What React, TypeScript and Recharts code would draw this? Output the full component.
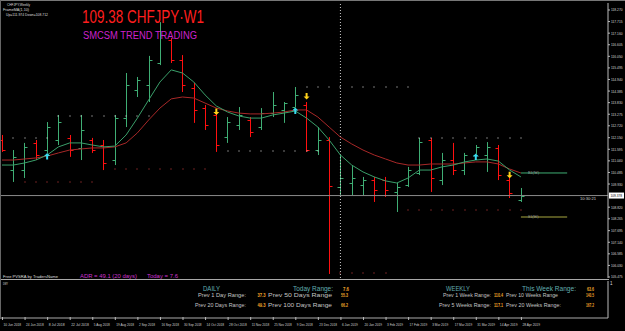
import React from 'react';
import { ComposedChart, Bar, Line, Scatter, XAxis, YAxis, ReferenceLine } from 'recharts';

const FONT = "'Liberation Sans', Arial, sans-serif";

const weeks = [
  '10 Jun 2018', '17 Jun 2018', '24 Jun 2018', '1 Jul 2018', '8 Jul 2018', '15 Jul 2018', '22 Jul 2018', '29 Jul 2018',
  '5 Aug 2018', '12 Aug 2018', '19 Aug 2018', '26 Aug 2018', '2 Sep 2018', '9 Sep 2018', '16 Sep 2018', '23 Sep 2018',
  '30 Sep 2018', '7 Oct 2018', '14 Oct 2018', '21 Oct 2018', '28 Oct 2018', '4 Nov 2018', '11 Nov 2018', '18 Nov 2018',
  '25 Nov 2018', '2 Dec 2018', '9 Dec 2018', '16 Dec 2018', '23 Dec 2018', '30 Dec 2018', '6 Jan 2019', '13 Jan 2019',
  '20 Jan 2019', '27 Jan 2019', '3 Feb 2019', '10 Feb 2019', '17 Feb 2019', '24 Feb 2019', '3 Mar 2019', '10 Mar 2019',
  '17 Mar 2019', '24 Mar 2019', '31 Mar 2019', '7 Apr 2019', '14 Apr 2019', '21 Apr 2019', '28 Apr 2019',
];

const open = [112.04, 110.60, 110.60, 111.90, 111.56, 112.04, 112.14, 111.66, 112.04, 111.80, 111.08, 113.09, 114.44, 114.68, 115.73, 116.83,
  115.87, 114.53, 113.57, 113.24, 112.18, 112.76, 113.00, 112.66, 113.33, 113.48, 113.62, 113.72, 111.56, 112.04, 109.79, 109.98,
  109.88, 110.12, 110.12, 109.55, 109.88, 110.46, 112.04, 110.12, 111.08, 110.60, 111.32, 111.32, 111.66, 110.12, 109.17];
const high = [112.28, 111.56, 111.90, 112.04, 112.90, 113.24, 112.28, 113.24, 112.14, 112.04, 113.24, 115.25, 115.06, 116.07, 117.69, 116.93,
  116.11, 114.77, 113.72, 113.33, 113.14, 113.62, 113.14, 113.57, 114.34, 113.86, 114.58, 113.86, 112.66, 112.18, 111.32, 110.79,
  110.27, 110.27, 110.27, 109.98, 110.75, 112.14, 112.14, 111.42, 111.90, 111.42, 111.80, 111.94, 111.80, 110.22, 109.74];
const low = [111.47, 110.03, 110.22, 111.08, 111.42, 111.80, 111.23, 111.08, 111.42, 110.60, 110.84, 112.66, 114.10, 113.86, 115.63, 115.73,
  114.34, 112.86, 112.52, 111.47, 111.90, 112.52, 112.18, 112.52, 113.14, 112.86, 113.62, 111.47, 111.32, 105.62, 109.40, 109.40,
  109.40, 109.07, 109.31, 108.59, 109.79, 110.36, 109.55, 109.88, 110.36, 110.36, 111.37, 110.51, 110.12, 109.26, 109.07];
const close = [111.56, 111.23, 111.71, 111.32, 112.66, 112.90, 111.56, 112.52, 111.56, 110.94, 113.09, 114.68, 114.92, 115.87, 117.07, 115.87,
  114.68, 113.48, 112.76, 111.80, 112.90, 113.24, 112.42, 113.33, 113.72, 113.81, 114.20, 111.56, 112.04, 109.84, 110.22, 110.22,
  110.12, 109.64, 109.64, 109.79, 110.60, 111.94, 110.22, 111.08, 110.60, 111.32, 111.71, 111.71, 110.36, 109.50, 109.378];

const maFast = [110.84, 110.84, 110.94, 111.08, 111.32, 111.71, 111.90, 111.90, 111.80, 111.71, 111.75, 112.28, 113.09, 113.96, 114.82, 115.40,
  115.25, 114.82, 114.20, 113.67, 113.38, 113.19, 113.09, 113.09, 113.24, 113.33, 113.43, 113.09, 112.66, 112.04, 111.32, 110.84,
  110.51, 110.27, 110.08, 109.98, 110.22, 110.60, 110.60, 110.75, 110.84, 110.99, 111.08, 111.13, 111.03, 110.60, 110.27];
const maSlow = [111.08, 111.08, 111.13, 111.18, 111.27, 111.42, 111.56, 111.61, 111.66, 111.66, 111.71, 111.90, 112.38, 113.00, 113.57, 114.01,
  114.10, 114.05, 113.81, 113.57, 113.43, 113.33, 113.29, 113.29, 113.33, 113.38, 113.48, 113.48, 113.14, 112.66, 112.18, 111.85,
  111.56, 111.32, 111.13, 110.94, 110.84, 110.84, 110.89, 110.89, 110.89, 110.94, 110.99, 110.99, 110.89, 110.65, 110.46];

const priceTicks = [118.270, 117.715, 117.160, 116.605, 116.050, 115.495, 114.940, 114.385, 113.830, 113.275, 112.720, 112.150,
  111.595, 111.040, 110.485, 109.930, 108.820, 108.265, 107.695, 107.140, 106.585, 106.030, 105.475];

const upperLevels = [
  { price: 112.14, from: 1, to: 4 },
  { price: 113.19, from: 5, to: 13 },
  { price: 111.51, from: 20, to: 28 },
  { price: 114.58, from: 27, to: 36 },
  { price: 112.14, from: 37, to: 46 },
];
const lowerLevels = [
  { price: 110.03, from: 2, to: 8 },
  { price: 110.65, from: 10, to: 18 },
  { price: 105.67, from: 30, to: 34 },
  { price: 108.69, from: 36, to: 46 },
];
const buyArrows = [{ bar: 4, price: 111.25 }, { bar: 26, price: 113.43 }, { bar: 42, price: 111.22 }];
const sellArrows = [{ bar: 19, price: 113.40 }, { bar: 27, price: 114.15 }, { bar: 45, price: 110.38 }];

const currentPrice = 109.378;
const resistance = 110.46;
const support = 108.35;
const lastBar = 46;
const levelLineEnd = 50.1;
const separatorBar = 30;

const X_DOMAIN: [number, number] = [-0.09, 53.72];
const Y_DOMAIN: [number, number] = [105.427, 118.605];

const BULL = '#3fae74';
const BEAR = '#ff1010';

const rows = weeks.map((w, i) => ({
  i, date: w, o: open[i], h: high[i], l: low[i], c: close[i],
  range: [low[i], high[i]], maF: maFast[i], maS: maSlow[i],
}));

const toPoints = (levels: { price: number; from: number; to: number }[]) => {
  const pts: { i: number; p: number }[] = [];
  levels.forEach((lv) => { for (let k = lv.from; k <= lv.to; k++) pts.push({ i: k, p: lv.price }); });
  return pts;
};
const upperPts = toPoints(upperLevels);
const lowerPts = toPoints(lowerLevels);
const buyPts = buyArrows.map((a) => ({ i: a.bar, p: a.price }));
const sellPts = sellArrows.map((a) => ({ i: a.bar, p: a.price }));

const dateTicks = weeks.map((_, i) => i).filter((i) => i % 2 === 0);

const OhlcShape = (props: any) => {
  const { x, y, width, height, payload } = props;
  if (!payload || payload.h == null) return null;
  const top = Math.min(y, y + height);
  const hgt = Math.abs(height);
  const cx = Math.round(x + width / 2) + 0.5;
  const span = payload.h - payload.l || 1;
  const yO = Math.round(top + ((payload.h - payload.o) / span) * hgt) + 0.5;
  const yC = Math.round(top + ((payload.h - payload.c) / span) * hgt) + 0.5;
  const col = payload.c >= payload.o ? BULL : BEAR;
  return (
    <g stroke={col} strokeWidth={1} fill="none">
      <line x1={cx} x2={cx} y1={top} y2={top + hgt} />
      <line x1={cx - 3} x2={cx} y1={yO} y2={yO} />
      <line x1={cx} x2={cx + 3} y1={yC} y2={yC} />
    </g>
  );
};

const DotShape = (color: string) => (p: any) => (
  <rect x={Math.round(p.cx) - 0.5} y={Math.round(p.cy) - 0.5} width={1} height={1} fill={color} />
);

const UpArrow = (p: any) => {
  const cx = p.cx, cy = p.cy;
  return (
    <path d={`M${cx},${cy - 3.5} L${cx + 3},${cy - 0.5} L${cx + 1},${cy - 0.5} L${cx + 1},${cy + 3} L${cx - 1},${cy + 3} L${cx - 1},${cy - 0.5} L${cx - 3},${cy - 0.5} Z`} fill="#38dcef" />
  );
};
const DownArrow = (p: any) => {
  const cx = p.cx, cy = p.cy;
  return (
    <path d={`M${cx},${cy + 3.5} L${cx + 3},${cy + 0.5} L${cx + 1},${cy + 0.5} L${cx + 1},${cy - 3} L${cx - 1},${cy - 3} L${cx - 1},${cy + 0.5} L${cx - 3},${cy + 0.5} Z`} fill="#ffd21a" />
  );
};

const PriceTick = (p: any) => (
  <text x={p.x} y={p.y} dy={1.5} fontSize={4.2} fill="#d8d8d8" fontFamily={FONT} textLength={11.5} lengthAdjust="spacingAndGlyphs">
    {Number(p.payload.value).toFixed(3)}
  </text>
);

const PriceBox = (p: any) => {
  const vb = p.viewBox || {};
  const right = (vb.x || 0) + (vb.width || 0);
  const y = vb.y || 0;
  return (
    <g>
      <rect x={right + 1} y={y - 3} width={15} height={6} fill="#ffffff" />
      <text x={right + 2.5} y={y + 1.5} fontSize={4.2} fill="#000" fontFamily={FONT} textLength={11.5} lengthAdjust="spacingAndGlyphs">
        {currentPrice.toFixed(3)}
      </text>
      <text x={right - 28} y={y + 4.5} fontSize={4.2} fill="#d0d0d0" fontFamily={FONT} textLength={16} lengthAdjust="spacingAndGlyphs">
        10:30:21
      </text>
    </g>
  );
};

const DateTick = (p: any) => {
  const label = weeks[p.payload.value] || '';
  return (
    <g>
      <line x1={p.x + 0.5} x2={p.x + 0.5} y1={p.y - 1} y2={p.y + 2} stroke="#bbb" />
      <text x={p.x + 1.5} y={p.y + 7.5} fontSize={3.8} fill="#cfcfcf" fontFamily={FONT} textLength={label.length * 1.6} lengthAdjust="spacingAndGlyphs">
        {label}
      </text>
    </g>
  );
};

const T = (props: { x: number; y: number; len: number; size: number; fill: string; children: string; weight?: string }) => (
  <text x={props.x} y={props.y} fontSize={props.size} fill={props.fill} fontFamily={FONT} fontWeight={props.weight || 'normal'}
    textLength={props.len} lengthAdjust="spacingAndGlyphs">{props.children}</text>
);

const TEAL = '#62aeb0';
const GRAYT = '#c4c4c4';
const ORANGE = '#f2a52a';

export default function App() {
  return (
    <div style={{ position: 'absolute', left: 0, top: 0, width: 625, height: 331, background: '#000', overflow: 'hidden' }}>
      <div style={{ position: 'absolute', left: 0, top: 0 }}>
        <ComposedChart width={625} height={279} data={rows} margin={{ top: 3, right: 0, bottom: 1, left: 1 }}>
          <XAxis dataKey="i" type="number" domain={X_DOMAIN} hide allowDataOverflow />
          <YAxis orientation="right" width={17} domain={Y_DOMAIN} ticks={priceTicks} interval={0} allowDataOverflow
            tick={PriceTick} tickSize={2} tickMargin={1} tickLine={{ stroke: '#bbb' }} axisLine={{ stroke: '#bbb' }} />
          <ReferenceLine x={separatorBar} stroke="#c8c8c8" strokeDasharray="1 2" />
          <ReferenceLine y={currentPrice} stroke="#8a8a8a" label={PriceBox} />
          <ReferenceLine segment={[{ x: lastBar, y: resistance }, { x: levelLineEnd, y: resistance }]} stroke="#3fae74"
            label={{ value: 'R1(W)', position: 'insideBottomLeft', fill: '#aaa', fontSize: 4, dx: 2, dy: 6 }} />
          <ReferenceLine segment={[{ x: lastBar, y: support }, { x: levelLineEnd, y: support }]} stroke="#a8a840"
            label={{ value: 'S1(W)', position: 'insideBottomLeft', fill: '#aaa', fontSize: 4, dx: 2, dy: 6 }} />
          <Line dataKey="maS" type="linear" stroke="#a82828" strokeWidth={1} dot={false} isAnimationActive={false} />
          <Line dataKey="maF" type="linear" stroke="#3a9f6a" strokeWidth={1} dot={false} isAnimationActive={false} />
          <Bar dataKey="range" barSize={5} shape={OhlcShape} isAnimationActive={false} />
          <Scatter data={upperPts} dataKey="p" shape={DotShape('#e6e6e6')} isAnimationActive={false} />
          <Scatter data={lowerPts} dataKey="p" shape={DotShape('#d84040')} isAnimationActive={false} />
          <Scatter data={buyPts} dataKey="p" shape={UpArrow} isAnimationActive={false} />
          <Scatter data={sellPts} dataKey="p" shape={DownArrow} isAnimationActive={false} />
        </ComposedChart>
      </div>

      <div style={{ position: 'absolute', left: 0, top: 280 }}>
        <ComposedChart width={625} height={51} data={rows} margin={{ top: 1, right: 0, bottom: 0, left: 1 }}>
          <XAxis dataKey="i" type="number" domain={X_DOMAIN} allowDataOverflow ticks={dateTicks} interval={0}
            tick={DateTick} tickSize={0} tickMargin={0} height={13} axisLine={{ stroke: '#aaa' }} />
          <YAxis orientation="right" width={17} domain={[0, 1]} ticks={[]} tick={false} axisLine={{ stroke: '#bbb' }} />
          <ReferenceLine x={separatorBar} stroke="#c8c8c8" strokeDasharray="1 2" />
          <Line dataKey="none" stroke="none" dot={false} isAnimationActive={false} />
        </ComposedChart>
      </div>

      <div style={{ position: 'absolute', left: 0, top: 0, width: 625, height: 1, background: '#777' }} />
      <div style={{ position: 'absolute', left: 0, top: 0, width: 1, height: 319, background: '#666' }} />
      <div style={{ position: 'absolute', left: 1, top: 279, width: 608, height: 1, background: '#a8a8a8' }} />

      <svg width={625} height={331} style={{ position: 'absolute', left: 0, top: 0, pointerEvents: 'none' }}>
        <T x={7} y={5.5} len={23} size={4.2} fill="#ddd">CHFJPY,Weekly</T>
        <T x={3} y={10.5} len={26} size={4.2} fill="#ddd">FrameMA(1,10)</T>
        <T x={6} y={15.5} len={42} size={4.2} fill="#ddd">Up=111.974 Down=108.712</T>
        <T x={82} y={22.5} len={122} size={19} fill="#ff1e1e">109.38 CHFJPY·W1</T>
        <T x={83} y={38.5} len={114} size={10} fill="#cc22cc">SMCSM TREND TRADING</T>

        <T x={3} y={277.5} len={55} size={4.2} fill="#ddd">Free PVSRA by TradersName</T>
        <T x={80} y={278} len={57} size={5.5} fill="#cc33cc">ADR = 49.1  (20 days)</T>
        <T x={147} y={278} len={31} size={5.5} fill="#cc33cc">Today = 7.6</T>

        <T x={3} y={285} len={5} size={4} fill="#ddd">DWY</T>
        <text x={610} y={285} fontSize={4.5} fill="#ddd" fontFamily={FONT}>1</text>

        <T x={203} y={290.5} len={17} size={7} fill={TEAL}>DAILY</T>
        <T x={293} y={290.5} len={40} size={7} fill={TEAL}>Today Range:</T>
        <T x={343} y={290.5} len={6} size={6} fill={ORANGE} weight="bold">7.6</T>
        <T x={198} y={297} len={48} size={5} fill={GRAYT}>Prev  1 Day Range:</T>
        <T x={257.5} y={297} len={8} size={5} fill={ORANGE} weight="bold">37.3</T>
        <T x={268} y={297} len={64} size={5} fill={GRAYT}>Prev 50 Days Range</T>
        <T x={341} y={297} len={7} size={5} fill={ORANGE} weight="bold">55.3</T>
        <T x={195} y={306.5} len={51} size={5} fill={GRAYT}>Prev 20 Days Range:</T>
        <T x={257.5} y={306.5} len={8} size={5} fill={ORANGE} weight="bold">49.3</T>
        <T x={268} y={306.5} len={64} size={5} fill={GRAYT}>Prev 100 Days Range</T>
        <T x={341} y={306.5} len={7} size={5} fill={ORANGE} weight="bold">66.2</T>

        <T x={446} y={290.5} len={24} size={7} fill={TEAL}>WEEKLY</T>
        <T x={522} y={290.5} len={54} size={7} fill={TEAL}>This Week Range:</T>
        <T x={587} y={290.5} len={7} size={6} fill={ORANGE} weight="bold">63.6</T>
        <T x={443} y={297} len={48} size={5} fill={GRAYT}>Prev  1 Week Range:</T>
        <T x={494} y={297} len={9} size={5} fill={ORANGE} weight="bold">110.4</T>
        <T x={506} y={297} len={52} size={5} fill={GRAYT}>Prev 10 Weeks Range</T>
        <T x={586} y={297} len={8} size={5} fill={ORANGE} weight="bold">140.5</T>
        <T x={439} y={306.5} len={52} size={5} fill={GRAYT}>Prev 5 Weeks Range:</T>
        <T x={494} y={306.5} len={9} size={5} fill={ORANGE} weight="bold">117.1</T>
        <T x={506} y={306.5} len={55} size={5} fill={GRAYT}>Prev 20 Weeks Range:</T>
        <T x={586} y={306.5} len={8} size={5} fill={ORANGE} weight="bold">167.2</T>
      </svg>
    </div>
  );
}
